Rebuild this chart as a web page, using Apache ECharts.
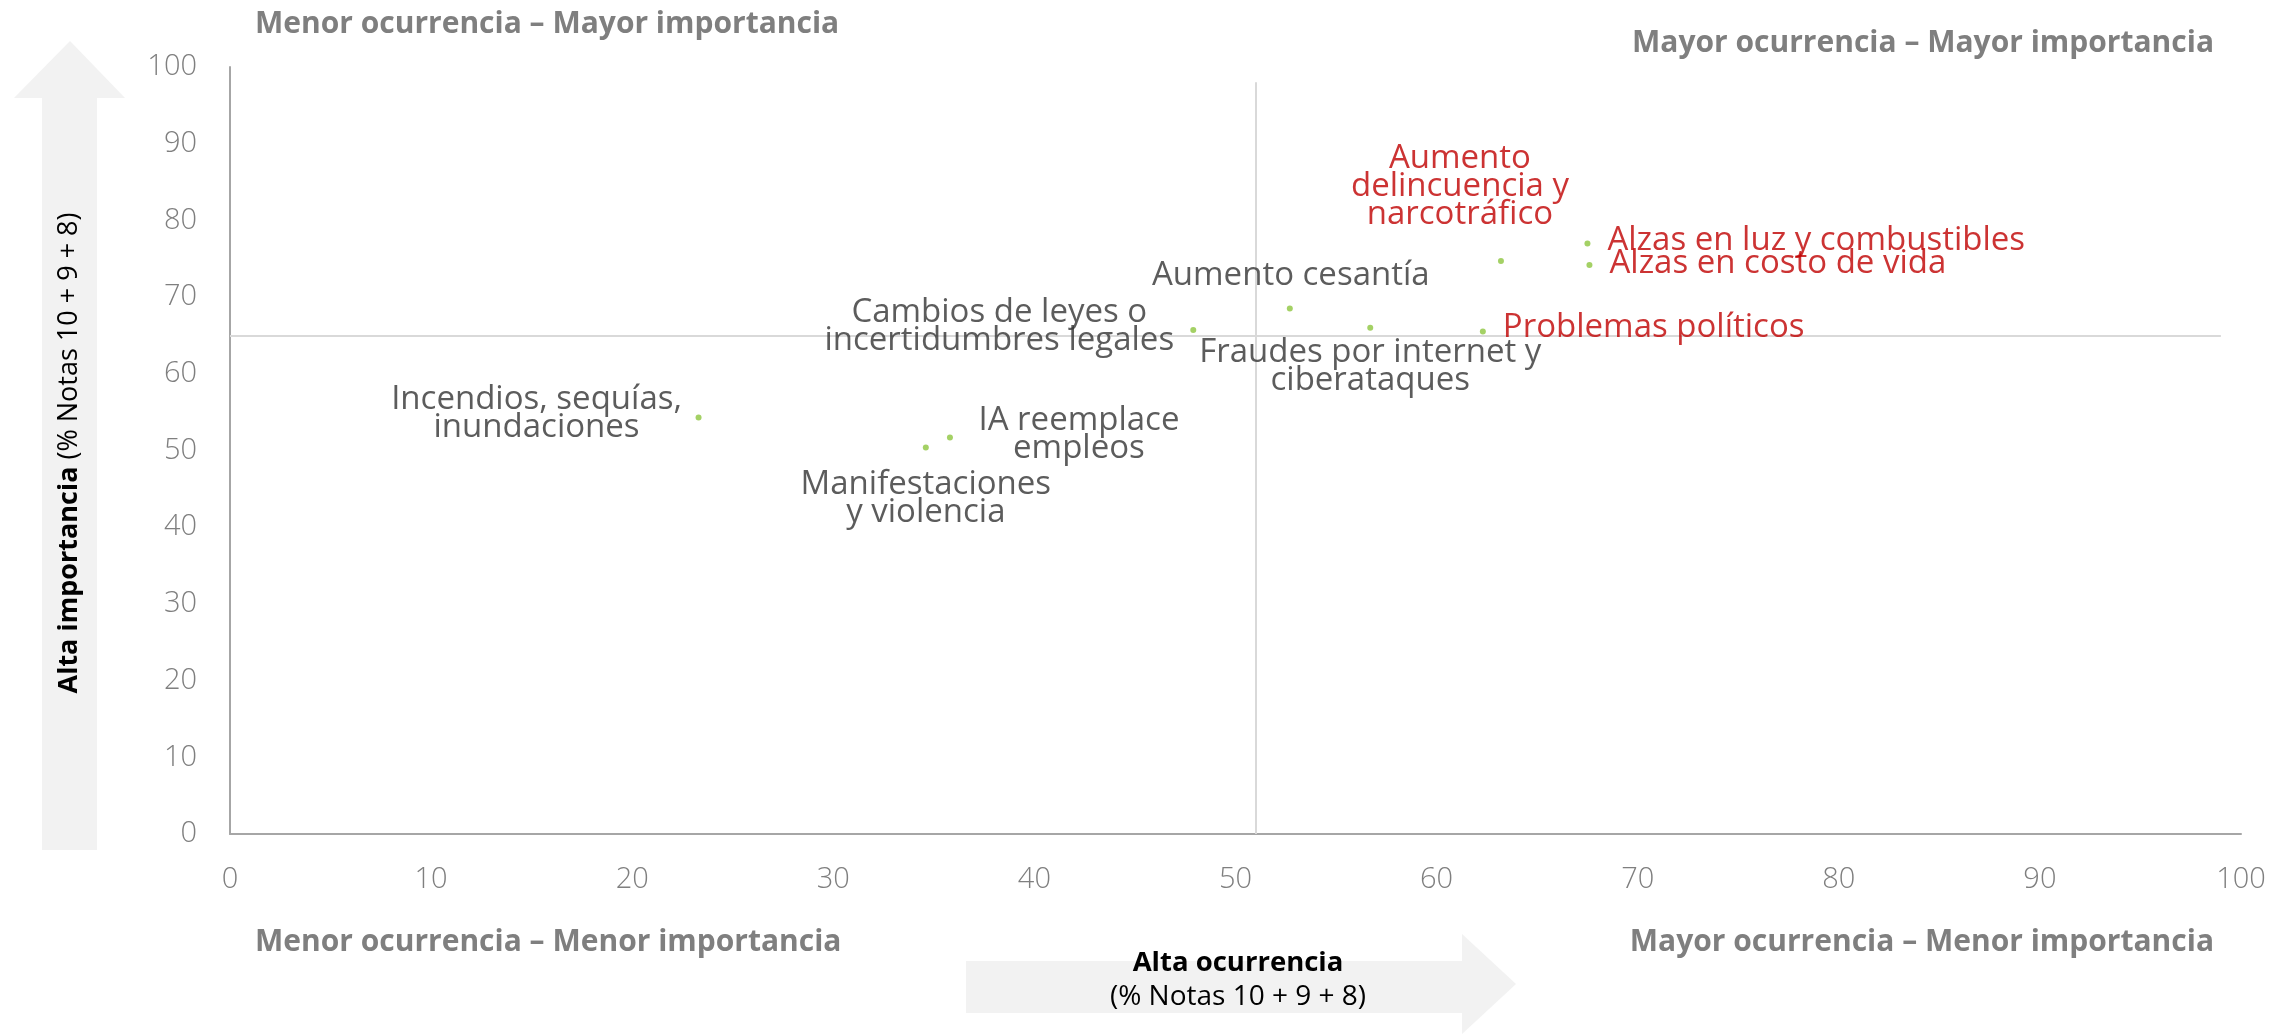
<!DOCTYPE html>
<html>
<head>
<meta charset="utf-8">
<title>Ocurrencia vs importancia</title>
<script src="https://cdn.jsdelivr.net/npm/echarts@6/dist/echarts.min.js"></script>
<style>
  html, body { margin: 0; padding: 0; background: #ffffff; }
  #main { width: 2270px; height: 1034px; }
</style>
</head>
<body>
<div id="main"></div>
<script type="text/javascript">
// datos
var temas = [
  'Aumento\ndelincuencia y\nnarcotráfico',
  'Alzas en luz y combustibles',
  'Alzas en costo de vida',
  'Aumento cesantía',
  'Cambios de leyes o\nincertidumbres legales',
  'Fraudes por internet y\nciberataques',
  'Problemas políticos',
  'Incendios, sequías,\ninundaciones',
  'IA reemplace\nempleos',
  'Manifestaciones\ny violencia'
];
var ocurrencia  = [63.2, 67.5, 67.6, 52.7, 47.9, 56.7, 62.3, 23.3, 35.8, 34.6];
var importancia = [74.7, 77.0, 74.2, 68.5, 65.7, 66.0, 65.5, 54.3, 51.7, 50.4];
var destacado   = [true, true, true, false, false, false, true, false, false, false];

var xTicks = [0, 10, 20, 30, 40, 50, 60, 70, 80, 90, 100];
var yTicks = [0, 10, 20, 30, 40, 50, 60, 70, 80, 90, 100];

// lineas de corte de cuadrantes
var corteX = 51;
var corteY = 65;

// posicion de cada etiqueta respecto a su punto (pixeles)
var etiquetas = [
  { align: 'center', offset: [-41, -74] },
  { align: 'left',   offset: [20, -3] },
  { align: 'left',   offset: [20, -1] },
  { align: 'center', offset: [1, -33] },
  { align: 'center', offset: [-194, -3] },
  { align: 'center', offset: [0, 39] },
  { align: 'left',   offset: [20, -4] },
  { align: 'center', offset: [-162, -4] },
  { align: 'center', offset: [129, -3] },
  { align: 'center', offset: [0, 51] }
];

var fuente = '"Open Sans", "Noto Sans", sans-serif';
var rojo = '#bf0000';
var grisTexto = '#333333';
var grisEje = '#7f7f7f';
var fondoFlecha = '#f2f2f2';

var puntos = [];
for (var i = 0; i < temas.length; i++) {
  puntos.push({
    name: temas[i],
    value: [ocurrencia[i], importancia[i]],
    label: {
      show: true,
      position: 'inside',
      align: etiquetas[i].align,
      verticalAlign: 'middle',
      offset: etiquetas[i].offset,
      formatter: '{b}',
      color: destacado[i] ? rojo : grisTexto,
      fontFamily: fuente,
      fontSize: 33,
      lineHeight: 28
    }
  });
}

var myChart = echarts.init(document.getElementById('main'));

var option = {
  backgroundColor: '#ffffff',
  animation: false,
  grid: { left: 230, right: 29, top: 67, bottom: 200 },
  xAxis: {
    type: 'value',
    min: 0, max: 100, interval: 10,
    axisLine: { show: true, onZero: false, lineStyle: { color: '#a6a6a6', width: 2 } },
    axisTick: { show: false },
    splitLine: { show: false },
    axisLabel: {
      margin: 31, color: grisEje, fontFamily: fuente, fontWeight: 300, fontSize: 29,
      formatter: function (v) { return xTicks.indexOf(v) >= 0 ? String(v) : ''; }
    }
  },
  yAxis: {
    type: 'value',
    min: 0, max: 100, interval: 10,
    axisLine: { show: true, onZero: false, lineStyle: { color: '#a6a6a6', width: 2 } },
    axisTick: { show: false },
    splitLine: { show: false },
    axisLabel: {
      margin: 33, color: grisEje, fontFamily: fuente, fontWeight: 300, fontSize: 29,
      formatter: function (v) { return yTicks.indexOf(v) >= 0 ? String(v) : ''; }
    }
  },
  graphic: [
    // flecha vertical
    {
      type: 'polygon', z: -10,
      shape: { points: [[42, 850], [42, 98], [14, 98], [70, 41], [125, 98], [97, 98], [97, 850]] },
      style: { fill: fondoFlecha }
    },
    // flecha horizontal
    {
      type: 'polygon', z: -10,
      shape: { points: [[966, 961], [1462, 961], [1462, 934], [1516, 984], [1462, 1034], [1462, 1013], [966, 1013]] },
      style: { fill: fondoFlecha }
    },
    {
      type: 'text', x: 69, y: 453, rotation: Math.PI / 2,
      style: {
        text: '{b|Alta importancia}{n|\u00a0(% Notas 10 + 9 + 8)}',
        align: 'center', verticalAlign: 'middle',
        rich: {
          b: { fontFamily: fuente, fontWeight: 'bold', fontSize: 27, fill: '#000000' },
          n: { fontFamily: fuente, fontSize: 27, fill: '#000000' }
        }
      }
    },
    {
      type: 'text', x: 1238, y: 963,
      style: { text: 'Alta ocurrencia', align: 'center', verticalAlign: 'middle',
        fontFamily: fuente, fontWeight: 'bold', fontSize: 27.5, fill: '#000000' }
    },
    {
      type: 'text', x: 1238, y: 997,
      style: { text: '(% Notas 10 + 9 + 8)', align: 'center', verticalAlign: 'middle',
        fontFamily: fuente, fontSize: 28, fill: '#000000' }
    },
    {
      type: 'text', x: 255, y: 24,
      style: { text: 'Menor ocurrencia – Mayor importancia', align: 'left', verticalAlign: 'middle',
        fontFamily: fuente, fontWeight: 'bold', fontSize: 30, fill: grisEje }
    },
    {
      type: 'text', x: 2214, y: 43,
      style: { text: 'Mayor ocurrencia – Mayor importancia', align: 'right', verticalAlign: 'middle',
        fontFamily: fuente, fontWeight: 'bold', fontSize: 30, fill: grisEje }
    },
    {
      type: 'text', x: 255, y: 942,
      style: { text: 'Menor ocurrencia – Menor importancia', align: 'left', verticalAlign: 'middle',
        fontFamily: fuente, fontWeight: 'bold', fontSize: 30, fill: grisEje }
    },
    {
      type: 'text', x: 2214, y: 942,
      style: { text: 'Mayor ocurrencia – Menor importancia', align: 'right', verticalAlign: 'middle',
        fontFamily: fuente, fontWeight: 'bold', fontSize: 30, fill: grisEje }
    }
  ],
  series: [
    {
      type: 'scatter',
      symbol: 'circle',
      symbolSize: 6,
      itemStyle: { color: '#8dc63f' },
      data: puntos,
      markLine: {
        silent: true,
        symbol: 'none',
        label: { show: false },
        lineStyle: { color: '#d9d9d9', width: 2, type: 'solid' },
        data: [
          [{ coord: [0, corteY] }, { coord: [99, corteY] }],
          [{ coord: [corteX, 0] }, { coord: [corteX, 98] }]
        ]
      },
      z: 5
    }
  ]
};

myChart.setOption(option);
</script>
</body>
</html>
